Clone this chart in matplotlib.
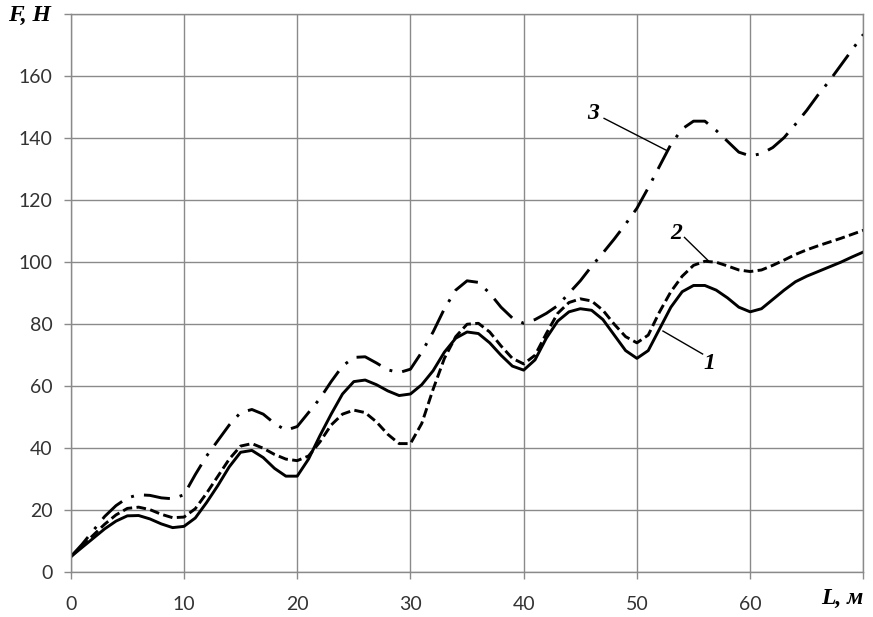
import numpy as np
import matplotlib
matplotlib.use("Agg")
import matplotlib.pyplot as plt

# ---------------- Data ----------------
L = list(range(0, 71))

F1 = [5, 8, 11, 14, 16.5, 18.2, 18.3, 17.2, 15.6, 14.4,
      14.8, 17.5, 22.5, 28, 34, 38.7, 39.3, 37, 33.5, 31,
      31, 36.5, 44, 51, 57.5, 61.5, 62, 60.5, 58.5, 57,
      57.5, 60.5, 65, 71, 75.5, 77.5, 77, 74, 70, 66.5,
      65.2, 68.5, 75.5, 81, 84, 85, 84.5, 81.5, 76.5, 71.5,
      69, 71.5, 78.5, 85.5, 90.5, 92.5, 92.5, 91, 88.5, 85.5,
      84, 85, 88, 91, 93.7, 95.5, 97, 98.5, 100, 101.7, 103.3]

F2 = [5, 8.5, 12, 15.5, 18.5, 20.6, 21, 20.2, 18.7, 17.6,
      17.8, 20.5, 25.5, 31, 36.5, 40.7, 41.5, 40, 38, 36.5,
      36, 37.5, 42, 47.5, 51, 52.3, 51.5, 48.5, 44.5, 41.5,
      41.5, 48, 59, 69, 76, 80, 80.3, 77.5, 73, 69,
      67.2, 70, 77, 83.5, 87, 88.2, 87.5, 84.5, 80, 76,
      74, 76.5, 84, 90.5, 95.5, 99, 100.3, 100, 98.8, 97.5,
      97, 97.5, 99, 100.7, 102.5, 104, 105.3, 106.5, 107.7, 109, 110.3]

F3 = [5, 9, 13.5, 18, 21.5, 24, 25, 24.8, 24, 23.7,
      25, 31.5, 37.5, 42.5, 47.5, 51.5, 52.5, 51, 48, 45.8,
      47, 51.5, 56, 61.5, 66.5, 69.3, 69.5, 67.5, 65.3, 64.4,
      65.5, 71, 77.5, 85, 91, 94, 93.5, 90, 85.5, 82,
      80.3, 81.5, 83.5, 86, 90, 94, 98.7, 103, 107.5, 112.3,
      117.4, 124, 131, 138, 143, 145.5, 145.5, 142.5, 139, 135.5,
      134.3, 135, 137, 140.2, 144.5, 149, 154, 158.5, 163.5, 168.5, 173.5]

x_ticks = [0, 10, 20, 30, 40, 50, 60, 70]
x_labels = ["0", "10", "20", "30", "40", "50", "60", ""]
y_ticks = [0, 20, 40, 60, 80, 100, 120, 140, 160, 180]
y_labels = ["0", "20", "40", "60", "80", "100", "120", "140", "160", ""]

# curve labels: (text, label position, leader start, leader end)
callouts = [
    ("1", (56.4, 67.4), (55.8, 70.4), (52.3, 77.8)),
    ("2", (53.5, 109.3), (54.2, 108.0), (56.3, 100.5)),
    ("3", (46.1, 148.1), (47.1, 146.4), (52.6, 136.1)),
]

# ---------------- Plot ----------------
fig = plt.figure(figsize=(8.73, 6.17), dpi=100)
ax = fig.add_axes([0.081, 0.0725, 0.908, 0.9045])

grid_c = "#8a8a8a"
lw = 2.1

ax.plot(L, F1, color="black", lw=lw, solid_capstyle="round", solid_joinstyle="round")
ax.plot(L, F2, color="black", lw=lw, dashes=(3.3, 1.5))
ax.plot(L, F3, color="black", lw=lw, dashes=(9, 3.5, 1, 3.5))

for txt, pos, p0, p1 in callouts:
    ax.plot([p0[0], p1[0]], [p0[1], p1[1]], color="black", lw=1.0)
    ax.text(pos[0], pos[1], txt, fontsize=17, fontweight="bold", fontstyle="italic",
            family="Liberation Serif", ha="center", va="center")

ax.set_xlim(0, 70)
ax.set_ylim(0, 180)
ax.set_xticks(x_ticks)
ax.set_xticklabels(x_labels)
ax.set_yticks(y_ticks)
ax.set_yticklabels(y_labels)
ax.grid(True, color=grid_c, lw=1.0)
ax.set_axisbelow(True)
for s in ax.spines.values():
    s.set_color(grid_c)
    s.set_linewidth(1.0)
ax.tick_params(axis="both", length=5, width=1.0, color=grid_c, labelsize=14,
               labelcolor="#333333")
ax.tick_params(axis="y", pad=8)
ax.tick_params(axis="x", pad=12)
for lab in ax.get_xticklabels() + ax.get_yticklabels():
    lab.set_family("Lato")

fig.text(0.034, 0.975, "F, H", fontsize=17, fontweight="bold", fontstyle="italic",
         family="Liberation Serif", ha="center", va="center")
fig.text(0.965, 0.03, "L, м", fontsize=17, fontweight="bold", fontstyle="italic",
         family="Liberation Serif", ha="center", va="center")

fig.savefig("out.png", dpi=100)
